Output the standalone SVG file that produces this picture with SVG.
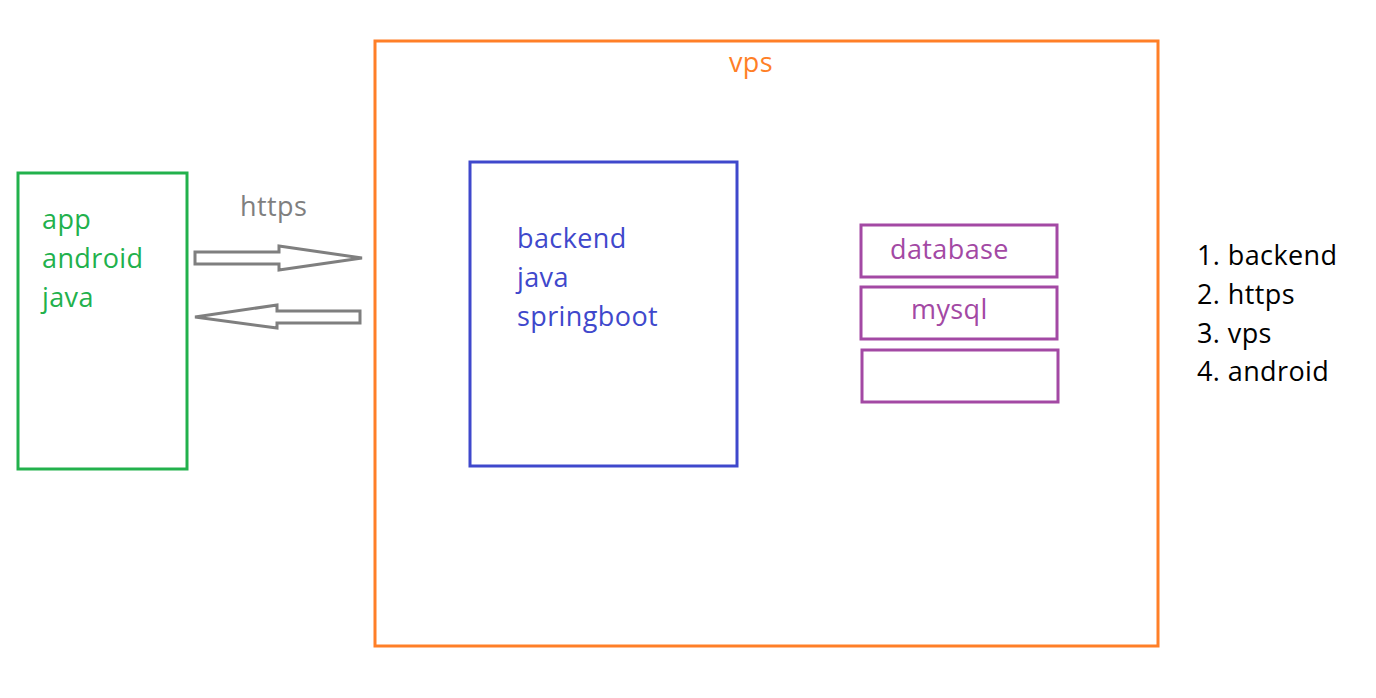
<svg xmlns="http://www.w3.org/2000/svg" width="1376" height="698" viewBox="0 0 1376 698">
<style>
text{font-family:"Open Sans","Noto Sans","Liberation Sans",sans-serif;font-size:27px;letter-spacing:0.4px}
.box{fill:none;stroke-width:3}
.g{fill:#22b14c}.o{fill:#ff7f27}.b{fill:#3f48cc}.p{fill:#a349a4}.k{fill:#000}.gr{fill:#7f7f7f}
.arrow{fill:#fff;stroke:#7f7f7f;stroke-width:3;stroke-linejoin:miter}
</style>
<rect width="1376" height="698" fill="#fff"/>
<g id="vps">
<rect class="box" x="375" y="41" width="783" height="605" stroke="#ff7f27"/>
<text class="o" x="751" y="72" text-anchor="middle">vps</text>
</g>
<g id="app">
<rect class="box" x="18" y="173" width="169" height="296" stroke="#22b14c"/>
<text class="g" x="42" y="229">app</text>
<text class="g" x="42" y="268">android</text>
<text class="g" x="42" y="307">java</text>
</g>
<g id="backend">
<rect class="box" x="470" y="162" width="267" height="304" stroke="#3f48cc"/>
<text class="b" x="517" y="248">backend</text>
<text class="b" x="517" y="287">java</text>
<text class="b" x="517" y="326">springboot</text>
</g>
<g id="database">
<rect class="box" x="861" y="225" width="196" height="52" stroke="#a349a4"/>
<text class="p" x="890" y="259">database</text>
</g>
<g id="mysql">
<rect class="box" x="861" y="287" width="196" height="52" stroke="#a349a4"/>
<text class="p" x="911" y="319">mysql</text>
</g>
<g id="empty">
<rect class="box" x="862" y="350" width="196" height="52" stroke="#a349a4"/>
</g>
<g id="connectors">
<text class="gr" x="240" y="216">https</text>
<polygon class="arrow" points="195,252 279,252 279,246 362,258 279,270 279,264 195,264"/>
<polygon class="arrow" points="195,317 277,305 277,311 360,311 360,323 277,323 277,328"/>
</g>
<g id="list">
<text class="k" x="1197" y="265">1. backend</text>
<text class="k" x="1197" y="304">2. https</text>
<text class="k" x="1197" y="343">3. vps</text>
<text class="k" x="1197" y="381">4. android</text>
</g>
</svg>
